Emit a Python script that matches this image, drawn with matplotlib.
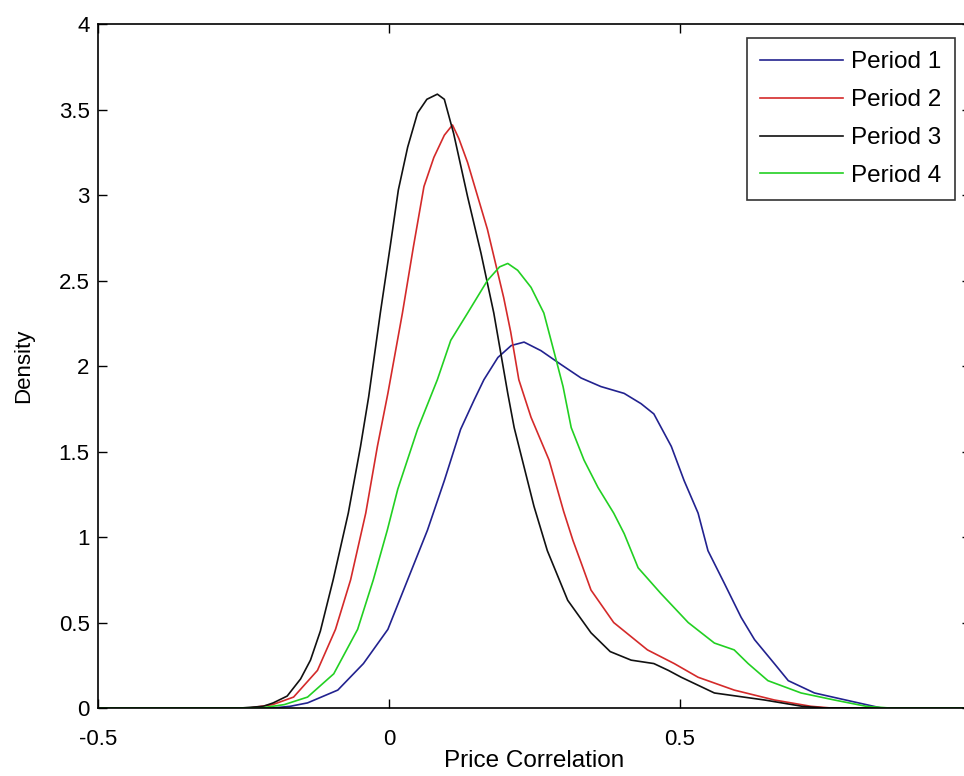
import matplotlib
matplotlib.use('Agg')
import matplotlib.pyplot as plt

# density curves (x = price correlation, y = density)
p1_x = [-0.5, -0.20, -0.17, -0.140, -0.088, -0.044, -0.002, 0.032, 0.066, 0.095, 0.123, 0.146, 0.163,
        0.187, 0.210, 0.232, 0.261, 0.295, 0.330, 0.364, 0.404, 0.433, 0.455, 0.485, 0.507, 0.531,
        0.548, 0.576, 0.605, 0.628, 0.662, 0.686, 0.731, 0.800, 0.846, 1.0]
p1_y = [0, 0, 0.01, 0.03, 0.105, 0.26, 0.46, 0.75, 1.04, 1.33, 1.63, 1.80, 1.92,
        2.05, 2.12, 2.14, 2.09, 2.01, 1.93, 1.88, 1.84, 1.78, 1.72, 1.53, 1.33, 1.14,
        0.92, 0.73, 0.53, 0.40, 0.26, 0.16, 0.088, 0.035, 0, 0]

p2_x = [-0.5, -0.24, -0.20, -0.164, -0.123, -0.092, -0.066, -0.040, -0.020, -0.002, 0.023, 0.042,
        0.060, 0.077, 0.095, 0.109, 0.120, 0.135, 0.169, 0.197, 0.209, 0.223, 0.244, 0.275, 0.300,
        0.316, 0.330, 0.347, 0.386, 0.444, 0.490, 0.531, 0.593, 0.662, 0.725, 0.76, 1.0]
p2_y = [0, 0, 0.02, 0.064, 0.22, 0.46, 0.75, 1.14, 1.53, 1.84, 2.31, 2.70,
        3.05, 3.22, 3.35, 3.41, 3.33, 3.19, 2.80, 2.40, 2.20, 1.92, 1.70, 1.45, 1.15,
        0.98, 0.85, 0.69, 0.50, 0.34, 0.26, 0.18, 0.105, 0.047, 0.01, 0, 0]

p3_x = [-0.5, -0.255, -0.216, -0.199, -0.175, -0.152, -0.135, -0.118, -0.096, -0.070, -0.049, -0.035,
        -0.015, 0.002, 0.016, 0.032, 0.049, 0.065, 0.083, 0.095, 0.111, 0.135, 0.158, 0.180, 0.204,
        0.215, 0.249, 0.272, 0.307, 0.347, 0.380, 0.416, 0.455, 0.480, 0.502, 0.559, 0.645, 0.71,
        0.75, 1.0]
p3_y = [0, 0, 0.01, 0.03, 0.07, 0.17, 0.28, 0.45, 0.75, 1.14, 1.53, 1.82,
        2.31, 2.70, 3.03, 3.28, 3.48, 3.56, 3.59, 3.56, 3.36, 2.99, 2.66, 2.31, 1.84,
        1.64, 1.18, 0.92, 0.63, 0.44, 0.33, 0.28, 0.26, 0.22, 0.18, 0.088, 0.047, 0.01,
        0, 0]

p4_x = [-0.5, -0.22, -0.18, -0.140, -0.095, -0.054, -0.027, -0.003, 0.015, 0.049, 0.083, 0.106,
        0.135, 0.169, 0.190, 0.204, 0.221, 0.244, 0.266, 0.283, 0.299, 0.313, 0.335, 0.359, 0.386,
        0.404, 0.428, 0.467, 0.514, 0.559, 0.593, 0.617, 0.651, 0.708, 0.765, 0.82, 0.86, 1.0]
p4_y = [0, 0, 0.02, 0.064, 0.20, 0.46, 0.75, 1.04, 1.28, 1.63, 1.92, 2.15,
        2.31, 2.50, 2.58, 2.60, 2.56, 2.46, 2.31, 2.09, 1.88, 1.64, 1.45, 1.29, 1.14,
        1.02, 0.82, 0.67, 0.50, 0.38, 0.34, 0.26, 0.16, 0.088, 0.047, 0.01, 0, 0]

labels = ['Period 1', 'Period 2', 'Period 3', 'Period 4']
colors = ['#22228f', '#d42a2a', '#111111', '#22d022']

plt.rcParams['font.family'] = ['Liberation Sans', 'DejaVu Sans']

fig = plt.figure(figsize=(9.64, 7.76), dpi=100)
ax = fig.add_axes([0.1017, 0.0876, 0.9056, 0.8814])

for xs, ys, lab, c in zip([p1_x, p2_x, p3_x, p4_x], [p1_y, p2_y, p3_y, p4_y], labels, colors):
    ax.plot(xs, ys, color=c, lw=1.2, label=lab)

ax.set_xlim(-0.5, 1.0)
ax.set_ylim(0, 4)
ax.set_xticks([-0.5, 0, 0.5, 1.0])
ax.set_xticklabels(['-0.5', '0', '0.5', ''])
ax.set_yticks([0, 0.5, 1, 1.5, 2, 2.5, 3, 3.5, 4])
ax.set_yticklabels(['0', '0.5', '1', '1.5', '2', '2.5', '3', '3.5', '4'])
ax.tick_params(direction='in', length=6.5, width=1, top=True, right=True, labelsize=16)
ax.tick_params(axis='x', pad=15)
ax.tick_params(axis='y', pad=6)
for s in ax.spines.values():
    s.set_linewidth(1.2)

ax.set_xlabel('Price Correlation', fontsize=17.5, labelpad=0)
ax.set_ylabel('Density', fontsize=16, labelpad=18)

leg = ax.legend(loc='upper left', bbox_to_anchor=(0.775, 0.951), bbox_transform=fig.transFigure,
                fontsize=17.5, frameon=True, fancybox=False, handlelength=3.4, handletextpad=0.33,
                labelspacing=0.65, borderpad=0.55, borderaxespad=0)
leg.get_frame().set_edgecolor('black')
leg.get_frame().set_linewidth(1.2)

fig.savefig('out.png', dpi=100)
